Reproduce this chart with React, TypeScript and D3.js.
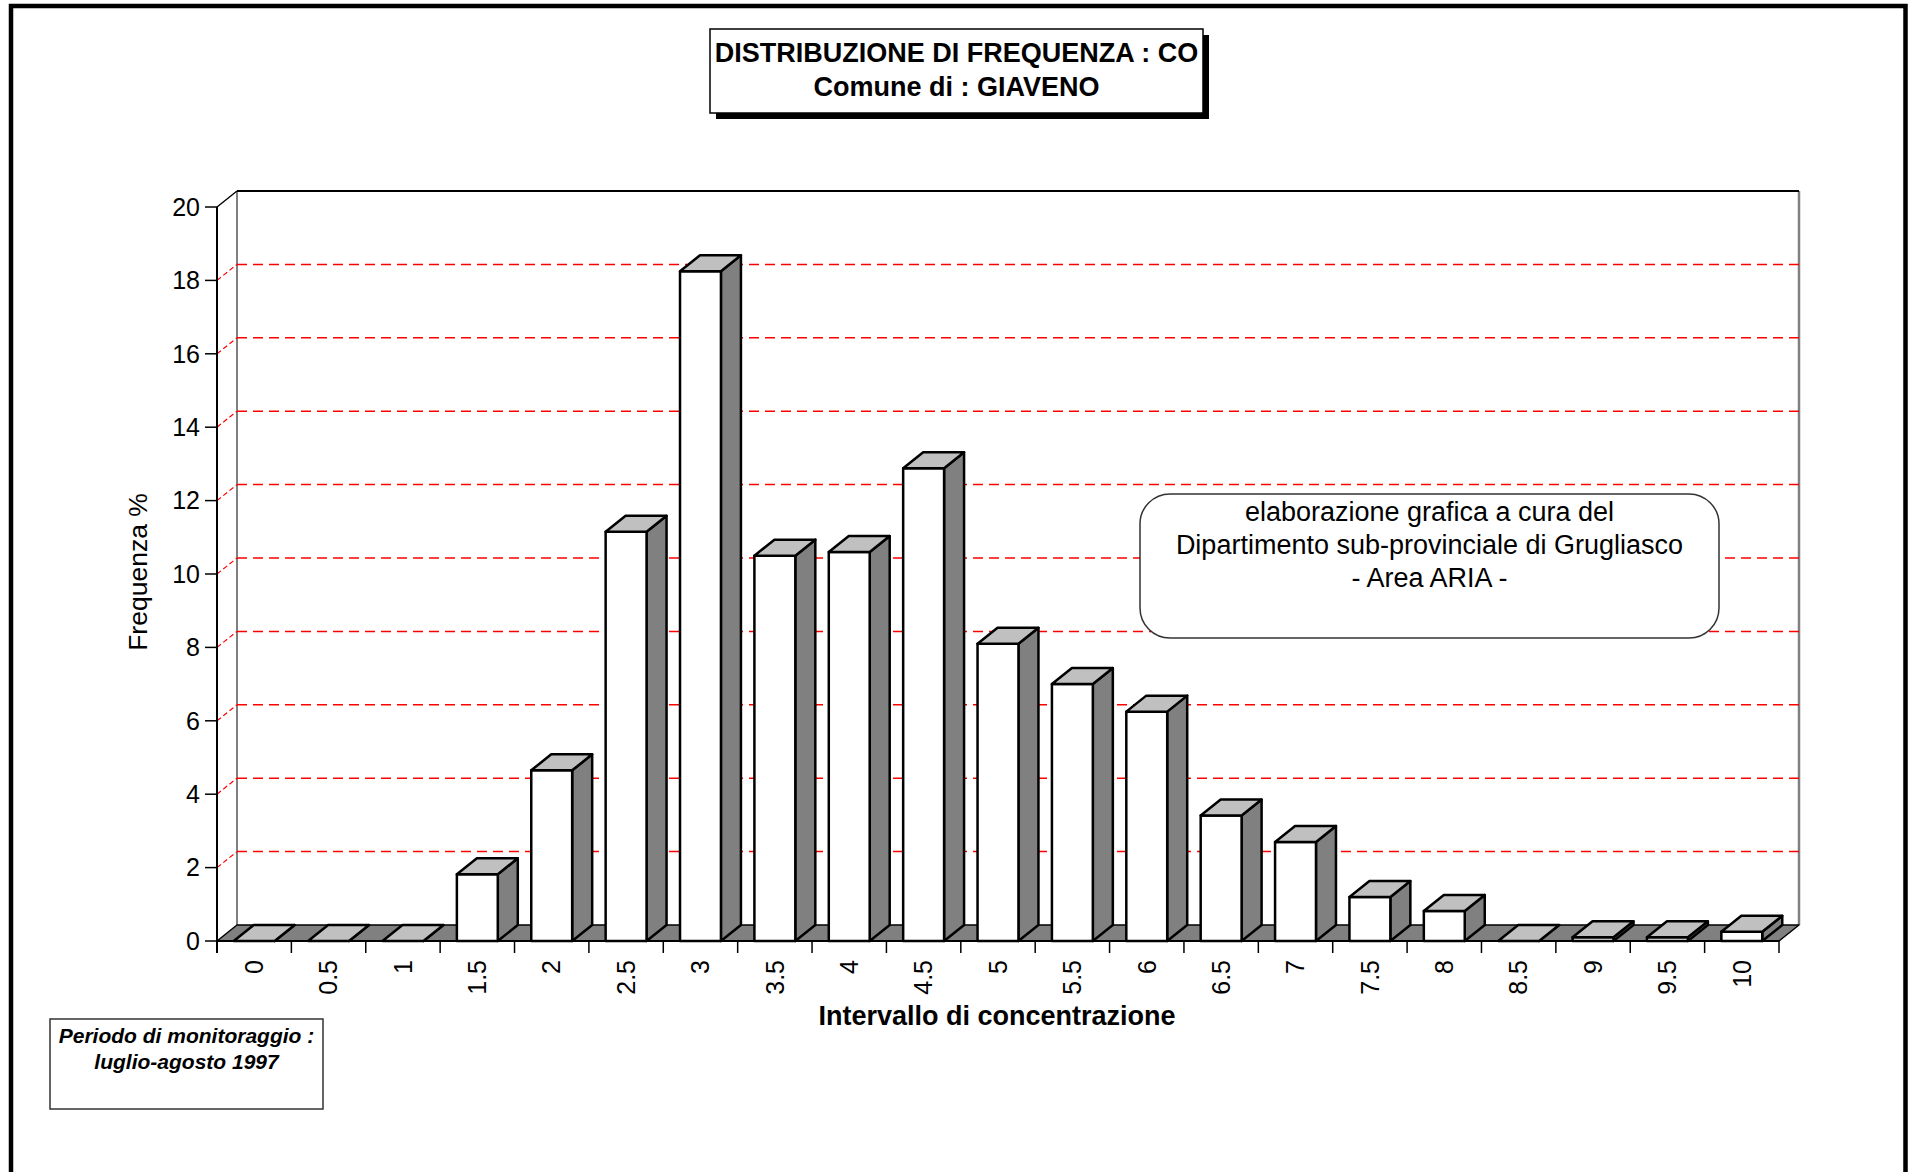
import React from 'react';
import * as d3 from 'd3';

const categories = ['0','0.5','1','1.5','2','2.5','3','3.5','4','4.5','5','5.5','6','6.5','7','7.5','8','8.5','9','9.5','10'];
const values = [0,0,0,1.82,4.65,11.15,18.25,10.5,10.6,12.88,8.1,7.0,6.25,3.42,2.7,1.2,0.82,0,0.1,0.1,0.25];
const yTicks = [0,2,4,6,8,10,12,14,16,18,20];
const gridTicks = [2,4,6,8,10,12,14,16,18];

const titleLines = ['DISTRIBUZIONE DI FREQUENZA : CO', 'Comune di : GIAVENO'];
const noteLines = ['elaborazione grafica a cura del', 'Dipartimento sub-provinciale di Grugliasco', '- Area ARIA -'];
const periodLines = ['Periodo di monitoraggio :', 'luglio-agosto 1997'];
const xTitle = 'Intervallo di concentrazione';
const yTitle = 'Frequenza %';

const W = 1914, H = 1172;
const FONT = '"Liberation Sans", Arial, sans-serif';

export default function App() {
  const x0 = 217, x1 = 1779, yTop = 207, yBot = 941;
  const dx = 20, dy = -16;
  const x = d3.scaleBand<string>().domain(categories).range([x0, x1]).padding(0);
  const y = d3.scaleLinear().domain([0, 20]).range([yBot, yTop]);
  const bw = x.bandwidth() * 0.55;
  const tickPositions = categories.map(c => x(c) as number).concat([x1]);

  return (
    <div style={{ position: 'fixed', left: 0, top: 0 }}>
      <svg width={W} height={H} style={{ display: 'block', background: '#fff' }} fontFamily={FONT}>
        <rect x={0} y={0} width={W} height={H} fill="#fff" />
        {/* outer frame */}
        <path d={`M11,${H + 10} V6 H1905.5 V${H + 10}`} fill="none" stroke="#000" strokeWidth={4.5} />

        {/* title box */}
        <rect x={716} y={35} width={493} height={84} fill="#000" />
        <rect x={710} y={29} width={493} height={84} fill="#fff" stroke="#000" strokeWidth={1.5} />
        <text x={956.5} y={62} textAnchor="middle" fontWeight="bold" fontSize={27}>{titleLines[0]}</text>
        <text x={956.5} y={96} textAnchor="middle" fontWeight="bold" fontSize={27}>{titleLines[1]}</text>

        {/* back wall edges */}
        <line x1={x0 + dx} y1={yTop + dy} x2={x0 + dx} y2={yBot + dy} stroke="#808080" strokeWidth={2} />
        <line x1={x1 + dx} y1={yTop + dy} x2={x1 + dx} y2={yBot + dy} stroke="#808080" strokeWidth={2.5} />

        {/* gridlines */}
        {gridTicks.map(t => (
          <g key={t}>
            <line x1={x0 + dx} y1={y(t) + dy} x2={x1 + dx} y2={y(t) + dy} stroke="#FF0000" strokeWidth={1.5} strokeDasharray="10,6" />
            <line x1={x0} y1={y(t)} x2={x0 + dx} y2={y(t) + dy} stroke="#FF0000" strokeWidth={1.2} strokeDasharray="5,3" />
          </g>
        ))}
        <line x1={x0 + dx} y1={yTop + dy} x2={x1 + dx} y2={yTop + dy} stroke="#000" strokeWidth={2} />
        <line x1={x0} y1={yTop} x2={x0 + dx} y2={yTop + dy} stroke="#000" strokeWidth={1.5} />

        {/* floor */}
        <polygon points={`${x0},${yBot} ${x1},${yBot} ${x1 + dx},${yBot + dy} ${x0 + dx},${yBot + dy}`} fill="#808080" stroke="#000" strokeWidth={1.5} strokeLinejoin="round" />

        {/* bars */}
        {categories.map((c, i) => {
          const cx = (x(c) as number) + x.bandwidth() / 2;
          const L = cx - bw / 2, R = cx + bw / 2;
          const T = y(values[i]), B = y(0);
          return (
            <g key={c} stroke="#000" strokeWidth={2.5} strokeLinejoin="round">
              <polygon points={`${R},${T} ${R + dx},${T + dy} ${R + dx},${B + dy} ${R},${B}`} fill="#808080" />
              <rect x={L} y={T} width={bw} height={B - T} fill="#fff" />
              <polygon points={`${L},${T} ${R},${T} ${R + dx},${T + dy} ${L + dx},${T + dy}`} fill="#C0C0C0" />
            </g>
          );
        })}

        {/* axes */}
        <line x1={x0} y1={yTop} x2={x0} y2={yBot + 12} stroke="#000" strokeWidth={2} />
        <line x1={x0} y1={yBot} x2={x1} y2={yBot} stroke="#000" strokeWidth={2} />
        {yTicks.map(t => (
          <g key={t}>
            <line x1={x0 - 12} y1={y(t)} x2={x0} y2={y(t)} stroke="#000" strokeWidth={1.5} />
            <text x={200} y={y(t)} dy="0.35em" textAnchor="end" fontSize={25}>{t}</text>
          </g>
        ))}
        {tickPositions.map((p, i) => (
          <line key={i} x1={p} y1={yBot} x2={p} y2={yBot + 12} stroke="#000" strokeWidth={1.5} />
        ))}
        {categories.map(c => {
          const cx = (x(c) as number) + x.bandwidth() / 2;
          return (
            <text key={c} transform={`translate(${cx},960) rotate(-90)`} dy="0.35em" textAnchor="end" fontSize={25}>{c}</text>
          );
        })}

        <text x={997} y={1025} textAnchor="middle" fontWeight="bold" fontSize={27}>{xTitle}</text>
        <text transform="translate(147,572) rotate(-90)" textAnchor="middle" fontSize={26.5}>{yTitle}</text>

        {/* note box */}
        <rect x={1140} y={494} width={579} height={144} rx={30} ry={30} fill="#fff" stroke="#333" strokeWidth={1.5} />
        {noteLines.map((l, i) => (
          <text key={i} x={1429.5} y={521 + i * 33} textAnchor="middle" fontSize={27}>{l}</text>
        ))}

        {/* period box */}
        <rect x={50} y={1019} width={273} height={90} fill="#fff" stroke="#333" strokeWidth={1.5} />
        {periodLines.map((l, i) => (
          <text key={i} x={186.5} y={1043 + i * 26} textAnchor="middle" fontWeight="bold" fontStyle="italic" fontSize={21}>{l}</text>
        ))}
      </svg>
    </div>
  );
}
